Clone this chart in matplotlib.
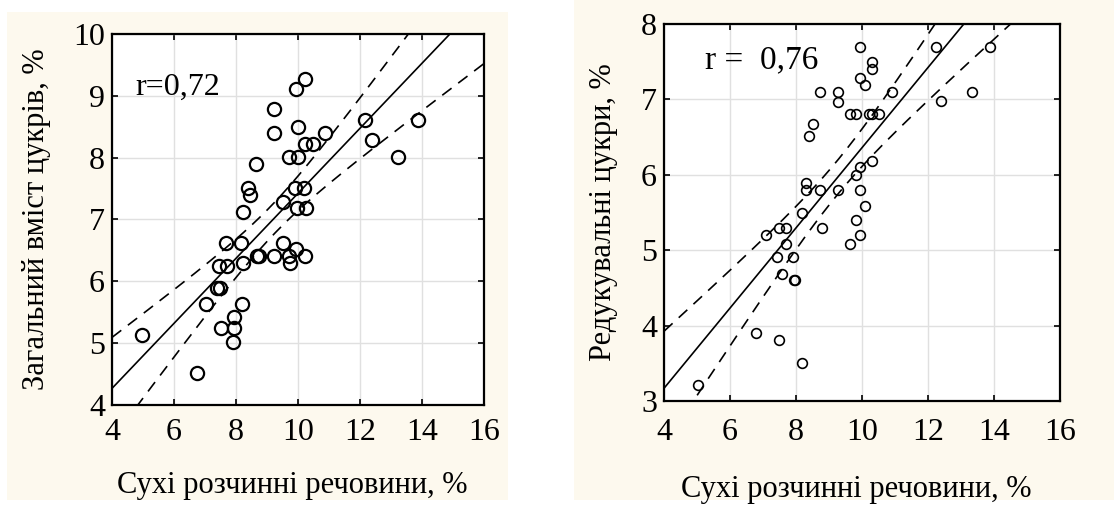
import numpy as np
import matplotlib
matplotlib.use("Agg")
import matplotlib.pyplot as plt
from matplotlib.patches import Rectangle

# ---- data ----
x_total = [4.97, 6.74, 7.03, 7.38, 7.47, 7.44, 7.71, 7.67, 7.51, 7.92, 7.94, 7.90,
           8.20, 8.16, 8.24, 8.24, 8.39, 8.46, 8.65, 8.69, 8.73, 9.23, 9.23, 9.23,
           9.53, 9.53, 9.72, 9.99, 9.72, 9.74, 9.94, 10.23, 10.01, 9.91, 10.18, 9.98,
           10.26, 9.94, 10.23, 10.23, 10.48, 10.87, 12.16, 12.38, 13.24, 13.88]
y_total = [5.13, 4.52, 5.63, 5.90, 5.90, 6.24, 6.24, 6.62, 5.24, 5.24, 5.42, 5.02,
           5.63, 6.62, 6.29, 7.12, 7.51, 7.40, 7.90, 6.41, 6.41, 6.41, 8.40, 8.79,
           7.29, 6.62, 8.01, 8.01, 6.41, 6.29, 9.11, 9.28, 8.50, 7.51, 7.51, 7.18,
           7.18, 6.52, 6.41, 8.22, 8.22, 8.40, 8.61, 8.29, 8.01, 8.61]

x_red = [5.02, 6.79, 7.49, 8.18, 7.09, 7.47, 7.70, 7.70, 7.42, 7.91, 7.57, 7.93,
         7.98, 8.18, 8.31, 8.31, 8.74, 8.79, 8.38, 8.51, 8.74, 9.27, 9.27, 9.27,
         9.63, 9.63, 9.83, 9.83, 9.83, 9.95, 9.95, 9.95, 9.95, 9.95, 10.10, 10.10,
         10.20, 10.30, 10.51, 10.30, 10.30, 10.30, 10.91, 12.23, 12.38, 13.34, 13.88]
y_red = [3.21, 3.90, 3.81, 3.51, 5.20, 5.29, 5.29, 5.08, 4.91, 4.91, 4.69, 4.60,
         4.60, 5.50, 5.89, 5.80, 5.80, 5.29, 6.51, 6.68, 7.10, 7.10, 6.96, 5.80,
         5.08, 6.81, 6.81, 5.40, 6.00, 7.70, 7.28, 6.10, 5.80, 5.20, 5.59, 7.19,
         6.81, 6.81, 6.81, 7.49, 7.40, 6.18, 7.10, 7.70, 6.98, 7.10, 7.70]

xlabel = "Сухі розчинні речовини, %"
ylabel_left = "Загальний вміст цукрів, %"
ylabel_right = "Редукувальні цукри, %"
r_left = "r=0,72"
r_right = "r =  0,76"
xticks = [4, 6, 8, 10, 12, 14, 16]
yticks_left = [4, 5, 6, 7, 8, 9, 10]
yticks_right = [3, 4, 5, 6, 7, 8]
T_CRIT = 2.015

plt.rcParams['font.family'] = ['Liberation Serif', 'DejaVu Serif']

W, H = 1114, 507
fig = plt.figure(figsize=(W / 100, H / 100), dpi=100, facecolor='white')
cream = '#FDF9EE'
fig.patches.append(Rectangle((7 / W, 1 - 500 / H), 501 / W, 488 / H,
                             transform=fig.transFigure, facecolor=cream,
                             edgecolor='none', zorder=-10))
fig.patches.append(Rectangle((574 / W, 1 - 500 / H), 540 / W, 500 / H,
                             transform=fig.transFigure, facecolor=cream,
                             edgecolor='none', zorder=-10))


def panel(rect, xs, ys, yticks, ylab, rtxt, rfs, rpos, msize, mew, ylab_x, xlab_y, xpad):
    ax = fig.add_axes(rect)
    ax.set_facecolor('white')
    xs = np.asarray(xs); ys = np.asarray(ys)
    n = len(xs)
    b1, b0 = np.polyfit(xs, ys, 1)
    xx = np.linspace(4, 16, 300)
    yhat = b0 + b1 * xx
    resid = ys - (b0 + b1 * xs)
    s = np.sqrt(np.sum(resid ** 2) / (n - 2))
    sxx = np.sum((xs - xs.mean()) ** 2)
    se = s * np.sqrt(1 / n + (xx - xs.mean()) ** 2 / sxx)
    ax.plot(xx, yhat, color='black', lw=1.2, zorder=3)
    ax.plot(xx, yhat + T_CRIT * se, color='black', lw=1.2, ls=(0, (7, 5)), zorder=3)
    ax.plot(xx, yhat - T_CRIT * se, color='black', lw=1.2, ls=(0, (7, 5)), zorder=3)
    ax.plot(xs, ys, 'o', mfc='none', mec='black', ms=msize, mew=mew, zorder=4)
    ax.set_xlim(4, 16)
    ax.set_ylim(yticks[0], yticks[-1])
    ax.set_xticks(xticks)
    ax.set_yticks(yticks)
    ax.grid(True, color='#E0E0E0', lw=1.0, zorder=0)
    ax.set_axisbelow(True)
    ax.tick_params(direction='in', length=4, width=1.2, top=True, right=True,
                   labelsize=23, colors='black')
    ax.tick_params(axis='y', pad=5)
    ax.tick_params(axis='x', pad=xpad)
    for sp in ax.spines.values():
        sp.set_linewidth(1.6)
    ax.text(rpos[0], rpos[1], rtxt, fontsize=rfs, va='center', ha='left')
    fig.text(ylab_x, rect[1] + rect[3] / 2, ylab, rotation=90, fontsize=22,
             ha='center', va='center')
    fig.text(rect[0] + rect[2] / 2 - 0.005, xlab_y, xlabel, fontsize=22,
             ha='center', va='center')
    return ax


panel([112 / W, 1 - 405 / H, 372 / W, 371 / H], x_total, y_total, yticks_left,
      ylabel_left, r_left, 23, (4.75, 9.13), 9.5, 1.6, 37 / W, 1 - 485 / H, 9)
panel([664 / W, 1 - 401 / H, 396 / W, 377 / H], x_red, y_red, yticks_right,
      ylabel_right, r_right, 24, (5.24, 7.52), 7, 1.2, 604 / W, 1 - 490 / H, 12)

fig.savefig('out.png', dpi=100, facecolor='white')
